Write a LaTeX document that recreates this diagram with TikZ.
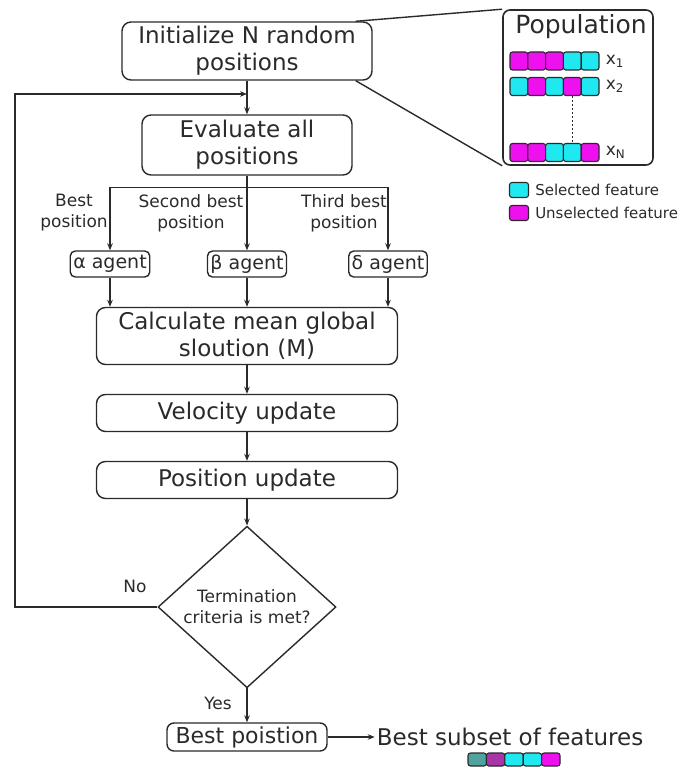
\documentclass[tikz,border=0pt]{standalone}
\usepackage{fontspec}
\setmainfont{DejaVu Sans}
\usepackage{tikz}
\usetikzlibrary{positioning,arrows.meta,shapes.geometric}

\definecolor{darkline}{HTML}{2A2A2A}
\definecolor{selcyan}{HTML}{20E8F0}
\definecolor{unselmag}{HTML}{EE10EE}
\definecolor{bestteal}{HTML}{4FA39C}
\definecolor{bestpurple}{HTML}{A834A8}

\begin{document}
\begin{tikzpicture}[
        x=1pt, y=-1pt,
        every node/.style={text=darkline},
        proc_style/.style={draw=darkline, line width=1.4pt, rounded corners=9pt, align=center, inner sep=0pt, font=\fontsize{23}{27}\selectfont},
        agent_style/.style={draw=darkline, line width=1.4pt, rounded corners=5pt, inner xsep=3pt, inner ysep=0pt, minimum height=26pt, font=\fontsize{19}{22}\selectfont},
        label_style/.style={align=center, inner sep=0pt, font=\fontsize{17}{21}\selectfont},
        cell_style/.style={draw=darkline, line width=1.1pt, rounded corners=2.5pt, minimum width=17.8pt, minimum height=18pt, inner sep=0pt},
        legend_style/.style={inner sep=0pt, font=\fontsize{15}{18}\selectfont},
        arrow_style/.style={draw=darkline, line width=1.4pt, -{Stealth[length=7pt,width=5.5pt]}},
        line_style/.style={draw=darkline, line width=1.4pt}
    ]
    \useasboundingbox (0,0) rectangle (683,773);

    % Main column
    \node[proc_style, minimum width=250pt, minimum height=58pt] (init) at (247,51) {Initialize N random\\positions};
    \node[proc_style, minimum width=210pt, minimum height=60pt] (eval) at (247,145) {Evaluate all\\positions};

    % Agents
    \node[agent_style] (alpha) at (110,264) {α agent};
    \node[agent_style] (beta) at (247,264) {β agent};
    \node[agent_style] (delta) at (388,264) {δ agent};

    \node[label_style] (lab_best) at (74,213) {Best\\position};
    \node[label_style] (lab_second) at (191,213) {Second best\\position};
    \node[label_style] (lab_third) at (344,213) {Third best\\position};

    \node[proc_style, minimum width=301pt, minimum height=57pt] (calc) at (247,336) {Calculate mean global\\sloution (M)};
    \node[proc_style, minimum width=301pt, minimum height=37pt] (vel) at (247,413) {Velocity update};
    \node[proc_style, minimum width=301pt, minimum height=37pt] (pos) at (247,480) {Position update};
    \node[draw=darkline, line width=1.4pt, diamond, minimum width=178pt, minimum height=156pt, inner sep=0pt, align=center, font=\fontsize{17}{21}\selectfont] (cond) at (247,607) {Termination\\criteria is met?};

    \node[proc_style, rounded corners=7pt, minimum width=160pt, minimum height=28pt, font=\fontsize{22}{26}\selectfont] (best) at (247,737) {Best poistion};
    \node[right=47pt of best, inner sep=2pt, font=\fontsize{23}{27}\selectfont] (result) {Best subset of features};

    \node[label_style] (lab_no) at (135,586) {No};
    \node[label_style] (lab_yes) at (218,703) {Yes};

    % Edges
    \draw[arrow_style] (init) -- (eval);
    \draw[line_style] (eval.south) -- ++(0,12) coordinate (split);
    \draw[arrow_style] (split) -| (alpha);
    \draw[arrow_style] (split) -- (beta);
    \draw[arrow_style] (split) -| (delta);
    \draw[arrow_style] (alpha) -- (alpha |- calc.north);
    \draw[arrow_style] (beta) -- (beta |- calc.north);
    \draw[arrow_style] (delta) -- (delta |- calc.north);
    \draw[arrow_style] (calc) -- (vel);
    \draw[arrow_style] (vel) -- (pos);
    \draw[arrow_style] (pos) -- (cond);
    \draw[arrow_style] (cond) -- (best);
    \draw[arrow_style] (best) -- (result);

    % Loop back
    \coordinate (loop_corner) at (15,94);
    \coordinate (loop_in) at (247,94);
    \draw[arrow_style] (cond.west) -| (loop_corner) -- (loop_in);

    % Population
    \node[draw=darkline, line width=1.6pt, rounded corners=7pt, minimum width=150pt, minimum height=155pt] (pop) at (578,87.5) {};
    \node[font=\fontsize{25}{30}\selectfont, inner sep=0pt] (pop_title) at (581,27) {Population};
    \draw[line_style] ([xshift=-17pt]init.north east) -- (pop.north west);
    \draw[line_style] ([xshift=-17pt]init.south east) -- (pop.south west);

    \foreach \c [count=\i] in {unselmag,unselmag,unselmag,selcyan,selcyan}
        \node[cell_style, fill=\c] (xa\i) at (501.1+\i*17.8,61) {};
    \foreach \c [count=\i] in {selcyan,unselmag,selcyan,unselmag,selcyan}
        \node[cell_style, fill=\c] (xb\i) at (501.1+\i*17.8,86.5) {};
    \foreach \c [count=\i] in {unselmag,unselmag,selcyan,selcyan,unselmag}
        \node[cell_style, fill=\c] (xn\i) at (501.1+\i*17.8,152.5) {};
    \draw[darkline, line width=1.4pt, dash pattern=on 2pt off 2pt] (xb4) -- (xn4);

    \node[legend_style, font=\fontsize{17}{20}\selectfont, right=6pt of xa5] (lab_x1) {x\textsubscript{1}};
    \node[legend_style, font=\fontsize{17}{20}\selectfont, right=6pt of xb5] (lab_x2) {x\textsubscript{2}};
    \node[legend_style, font=\fontsize{17}{20}\selectfont, right=6pt of xn5] (lab_xn) {x\textsubscript{N}};

    % Legend
    \node[cell_style, fill=selcyan, minimum width=19pt, minimum height=15pt] (leg_sel) at (519,190) {};
    \node[cell_style, fill=unselmag, minimum width=19pt, minimum height=15pt] (leg_unsel) at (519,213) {};
    \node[legend_style, right=6pt of leg_sel] (leg_sel_txt) {Selected feature};
    \node[legend_style, right=6pt of leg_unsel] (leg_unsel_txt) {Unselected feature};

    % Best subset
    \foreach \c [count=\i] in {bestteal,bestpurple,selcyan,selcyan,unselmag}
        \node[cell_style, fill=\c, minimum width=18.4pt, minimum height=13pt] (bs\i) at (458.8+\i*18.4,759.5) {};

\end{tikzpicture}
\end{document}
